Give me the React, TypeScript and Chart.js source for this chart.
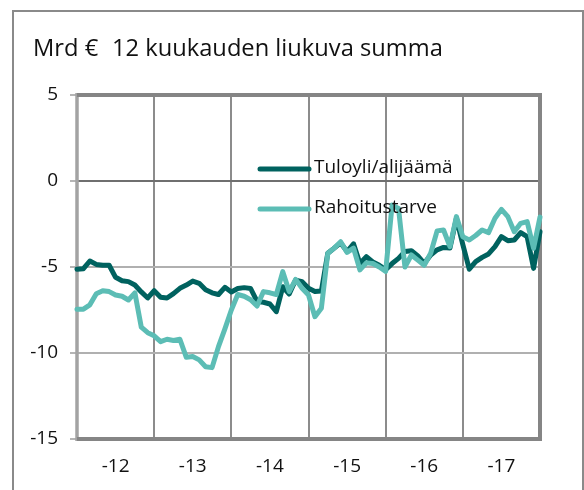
import React, { useEffect, useRef } from "react";
import { Chart, registerables } from "chart.js";
Chart.register(...registerables);

const titleUnit = "Mrd €";
const titleText = "12 kuukauden liukuva summa";
const seriesNames = ["Tuloyli/alijäämä", "Rahoitustarve"];
const yearLabels = ["-12", "-13", "-14", "-15", "-16", "-17"];
const yMin = -15;
const yMax = 5;
const yStep = 5;

// monthly points, Dec 2011 .. Dec 2017 (73 values)
const tuloyli = [
  -5.13, -5.1, -4.65, -4.85, -4.9, -4.9, -5.6, -5.8, -5.85, -6.05, -6.45, -6.8,
  -6.38, -6.76, -6.8, -6.55, -6.24, -6.05, -5.82, -5.95, -6.32, -6.5, -6.6, -6.18,
  -6.45, -6.25, -6.2, -6.25, -7.0, -7.05, -7.15, -7.6, -6.15, -6.57, -5.76, -5.85,
  -6.24, -6.43, -6.4, -4.2, -3.9, -3.6, -4.1, -3.65, -4.8, -4.4, -4.7, -4.9,
  -5.15, -4.8, -4.5, -4.1, -4.05, -4.36, -4.79, -4.3, -4.0, -3.86, -3.9, -2.17,
  -3.7, -5.13, -4.69, -4.44, -4.24, -3.82, -3.24, -3.47, -3.43, -3.0, -3.24, -5.08,
  -2.95,
];
const rahoitustarve = [
  -7.45, -7.45, -7.2, -6.55, -6.38, -6.43, -6.63, -6.7, -6.92, -6.5, -8.5, -8.82,
  -9.0, -9.34, -9.2, -9.27, -9.2, -10.25, -10.2, -10.4, -10.8, -10.85, -9.63, -8.6,
  -7.5, -6.6, -6.7, -6.9, -7.27, -6.43, -6.5, -6.6, -5.27, -6.43, -5.72, -6.24,
  -6.63, -7.89, -7.4, -4.2, -3.9, -3.53, -4.15, -3.9, -5.17, -4.76, -4.8, -5.0,
  -5.25, -1.4, -1.6, -5.0, -4.3, -4.6, -4.9, -4.2, -2.9, -2.85, -3.82, -2.07,
  -3.24, -3.43, -3.17, -2.85, -3.0, -2.17, -1.65, -2.07, -2.95, -2.46, -2.36, -3.91,
  -2.1,
];

const DARK = "#00625f";
const LIGHT = "#5cbdb5";
const FONT = "'Open Sans', 'DejaVu Sans', sans-serif";

const toPoints = (vals: number[]) => vals.map((v, i) => ({ x: i, y: v }));

const decor = {
  id: "decor",
  beforeDatasetsDraw(chart: any) {
    const { ctx, chartArea } = chart;
    const { left, top, right, bottom } = chartArea;
    ctx.save();
    ctx.strokeStyle = "#a3a3a3";
    ctx.lineWidth = 3.5;
    ctx.beginPath();
    ctx.moveTo(left, top - 2);
    ctx.lineTo(left, bottom + 2);
    ctx.stroke();
    ctx.strokeStyle = "#858585";
    ctx.lineWidth = 4;
    ctx.lineJoin = "miter";
    ctx.beginPath();
    ctx.moveTo(left, top);
    ctx.lineTo(right, top);
    ctx.lineTo(right, bottom);
    ctx.lineTo(left, bottom);
    ctx.stroke();
    ctx.restore();
  },
  afterDraw(chart: any) {
    const { ctx } = chart;
    ctx.save();
    // outer frame
    ctx.strokeStyle = "#8a8a8a";
    ctx.lineWidth = 2;
    ctx.strokeRect(13, 11, 570, 490);
    // title
    ctx.fillStyle = "#111";
    ctx.font = `23.7px ${FONT}`;
    ctx.textBaseline = "alphabetic";
    ctx.textAlign = "left";
    ctx.fillText(titleUnit, 33, 56);
    ctx.fillText(titleText, 112, 56);
    // legend
    const ys = [169, 209];
    chart.data.datasets.forEach((ds: any, k: number) => {
      ctx.strokeStyle = ds.borderColor;
      ctx.lineWidth = 5;
      ctx.lineCap = "round";
      ctx.beginPath();
      ctx.moveTo(260, ys[k]);
      ctx.lineTo(309, ys[k]);
      ctx.stroke();
      ctx.fillStyle = "#111";
      ctx.font = `19px ${FONT}`;
      ctx.textBaseline = "middle";
      ctx.fillText(ds.label, 314, ys[k] - 1);
    });
    ctx.restore();
  },
};

export default function App() {
  const ref = useRef<HTMLCanvasElement | null>(null);
  useEffect(() => {
    if (!ref.current) return;
    const chart = new Chart(ref.current, {
      type: "line",
      data: {
        datasets: [
          {
            label: seriesNames[0],
            data: toPoints(tuloyli),
            borderColor: DARK,
            backgroundColor: DARK,
            borderWidth: 5,
            pointRadius: 0,
            tension: 0,
            borderJoinStyle: "round",
            borderCapStyle: "round",
            clip: false,
            order: 1,
          },
          {
            label: seriesNames[1],
            data: toPoints(rahoitustarve),
            borderColor: LIGHT,
            backgroundColor: LIGHT,
            borderWidth: 5,
            pointRadius: 0,
            tension: 0,
            borderJoinStyle: "round",
            borderCapStyle: "round",
            clip: false,
            order: 0,
          },
        ],
      },
      options: {
        responsive: false,
        animation: false,
        layout: { padding: { top: 95, right: 44, left: 0, bottom: 0 } },
        plugins: { legend: { display: false }, tooltip: { enabled: false }, title: { display: false } },
        scales: {
          x: {
            type: "linear",
            min: 0,
            max: 72,
            afterBuildTicks: (scale: any) => {
              const t: any[] = [];
              for (let k = 0; k <= 12; k++) t.push({ value: k * 6 });
              scale.ticks = t;
            },
            afterFit: (scale: any) => {
              scale.height = 51;
            },
            border: { display: false },
            grid: {
              drawTicks: false,
              lineWidth: 2,
              color: (c: any) => (c.tick && c.tick.value % 12 === 0 ? "#8c8c8c" : "rgba(0,0,0,0)"),
            },
            ticks: {
              autoSkip: false,
              maxRotation: 0,
              padding: 16,
              color: "#111",
              font: { family: FONT, size: 19 },
              callback: (v: any) => {
                const n = Number(v);
                return n % 12 === 6 ? yearLabels[(n - 6) / 12] : "";
              },
            },
          },
          y: {
            min: yMin,
            max: yMax,
            afterFit: (scale: any) => {
              scale.width = 77;
            },
            border: { display: false },
            grid: {
              lineWidth: 2,
              tickLength: 7,
              tickColor: "#b5b5b5",
              tickWidth: 2,
              color: (c: any) => (c.tick && c.tick.value === 0 ? "#6f6f6f" : "#b0b0b0"),
            },
            ticks: {
              stepSize: yStep,
              padding: 12,
              color: "#111",
              font: { family: FONT, size: 19 },
            },
          },
        },
      },
      plugins: [decor],
    } as any);
    return () => chart.destroy();
  }, []);
  return (
    <div style={{ position: "absolute", left: 0, top: 0, width: 584, height: 490, background: "#fff" }}>
      <canvas ref={ref} width={584} height={490} style={{ display: "block" }} />
    </div>
  );
}
